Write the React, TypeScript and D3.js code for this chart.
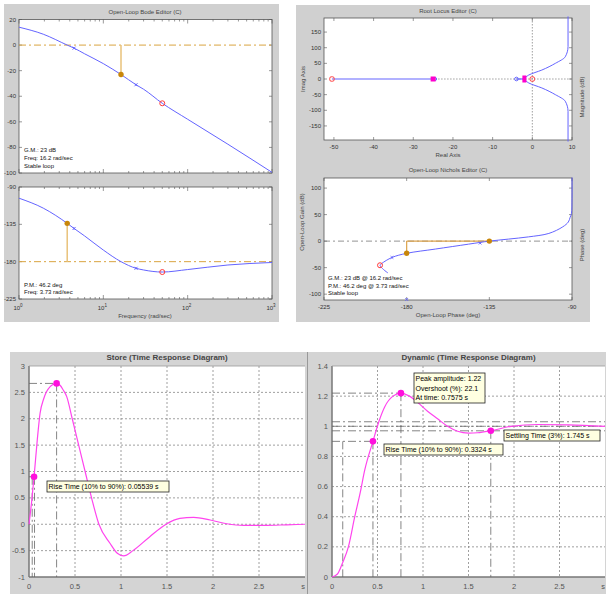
import React, { useEffect, useRef } from 'react';
import * as d3 from 'd3';

// open-loop Bode data (rad/sec, dB, deg)
const bodeFreq = [1, 1.94, 3.73, 4.5, 6, 10, 16.2, 24.4, 30, 50, 100, 300, 1000];
const bodeMag = [14, 8.5, 0, -2.4, -6.8, -14.5, -23, -31, -34.5, -45.5, -58, -77.5, -99.5];
const bodePhase = [-103.5, -115.5, -133.8, -140, -149, -166, -180, -188, -190, -192.5, -189.5, -184, -181];
const compFreq = [4.5, 24.4];
const gmFreq = 16.2;
const pmFreq = 3.73;
const closedFreq = 50;

// root locus
const rlBranchRe = [-2, -0.9, 2.4, 5.8, 8.3, 9.0, 9.0];
const rlBranchIm = [0, 12.7, 28.6, 50, 71, 103, 200];
const rlOpenPoles = [-50.5, 0];
const rlClosedPoles = [-25, -2];
const rlCompZero = -4;
const rlCompPole = -24.5;

// nichols
const nicholsPhase = [-90, -90, -90.3, -91, -92, -95, -102.6, -113.7, -124.6, -135, -146.3, -164.4, -180, -188, -193.5, -194.5, -192.6, -190.2];
const nicholsGain = [120, 80, 52, 45, 36, 27, 14.5, 8, 3.8, 0, -5.7, -15, -23, -30.8, -42, -45.5, -53.5, -60];
const nicholsComp: [number, number][] = [[-140, -3.8], [-188, -30.8], [-180, -110]];
const nicholsClosed: [number, number] = [-194.5, -45.5];

// time responses
const storeT = [0, 0.03, 0.055, 0.09, 0.12, 0.16, 0.19, 0.23, 0.26, 0.3, 0.34, 0.37, 0.41, 0.47, 0.54, 0.61, 0.68, 0.76, 0.88, 0.96, 1.03, 1.13, 1.31, 1.49, 1.64, 1.79, 1.97, 2.15, 2.33, 2.58, 2.8, 3.0];
const storeY = [0, 0.45, 0.9, 1.6, 2.1, 2.38, 2.51, 2.61, 2.65, 2.67, 2.63, 2.55, 2.42, 2.0, 1.5, 1.0, 0.5, 0, -0.36, -0.55, -0.6, -0.5, -0.24, 0, 0.11, 0.13, 0.08, 0.01, -0.02, -0.02, -0.01, 0];
const dynT = [0, 0.06, 0.12, 0.18, 0.25, 0.31, 0.36, 0.45, 0.52, 0.58, 0.67, 0.7575, 0.85, 0.94, 1.05, 1.16, 1.27, 1.38, 1.5, 1.6, 1.745, 1.97, 2.26, 2.6, 3.0];
const dynY = [0, 0.02, 0.1, 0.2, 0.4, 0.56, 0.71, 0.9, 1.04, 1.13, 1.2, 1.22, 1.2, 1.16, 1.1, 1.05, 1.0, 0.967, 0.955, 0.957, 0.97, 1.0, 1.012, 1.01, 1.0];
const timeTicks = ['0', '0.5', '1', '1.5', '2', '2.5', 's'];

const SANS = 'Liberation Sans, Arial, sans-serif';
const BLUE = '#6464ff';
const PINK = '#ff44ee';
const ORANGE = '#c8860a';
const ORANGE_L = '#e9c27a';
const RED = '#ff3b3b';

const txt = (g: any, x: number, y: number, s: string, size: number, anchor = 'start', fill = '#333') =>
  g.append('text')
    .attr('x', x).attr('y', y)
    .attr('font-family', SANS).attr('font-size', size)
    .attr('text-anchor', anchor).attr('dominant-baseline', 'central')
    .attr('fill', fill).text(s);

const xMark = (g: any, x: number, y: number, color: string, s = 2) => {
  g.append('path').attr('d', `M${x - s},${y - s}L${x + s},${y + s}M${x - s},${y + s}L${x + s},${y - s}`)
    .attr('stroke', color).attr('stroke-width', 1);
};

const frame = (g: any, x0: number, x1: number, y0: number, y1: number, stroke = '#555') =>
  g.append('rect').attr('x', x0).attr('y', y0).attr('width', x1 - x0).attr('height', y1 - y0)
    .attr('fill', '#fff').attr('stroke', stroke).attr('stroke-width', 0.8);

const App = () => {
  const svgRef = useRef<SVGSVGElement>(null);

  useEffect(() => {
    const svg = d3.select(svgRef.current);
    svg.selectAll('*').remove();

    // ---------- Bode editor ----------
    const bode = svg.append('g');
    bode.append('rect').attr('x', 4).attr('y', 4).attr('width', 275).attr('height', 318).attr('fill', '#d0d0d0');
    const xB = d3.scaleLog().domain([1, 1000]).range([19, 272]);
    const yMag = d3.scaleLinear().domain([-100, 20]).range([173, 19.5]);
    const yPh = d3.scaleLinear().domain([-225, -90]).range([299, 187]);
    const magAt = d3.scaleLog().domain(bodeFreq).range(bodeMag);
    const phAt = d3.scaleLog().domain(bodeFreq).range(bodePhase);

    txt(bode, 145, 12, 'Open-Loop Bode Editor (C)', 6, 'middle', '#444');
    frame(bode, 19, 272, 19.5, 173);
    frame(bode, 19, 272, 187, 299);

    const logTicks: number[] = [];
    for (let d = 0; d < 3; d++) for (let k = 1; k < 10; k++) logTicks.push(k * 10 ** d);
    logTicks.push(1000);
    [[19.5, 173], [187, 299]].forEach(([t, b]) => {
      logTicks.forEach(v => {
        const major = Math.abs(Math.log10(v) % 1) < 1e-9;
        const len = major ? 4 : 2;
        const x = xB(v);
        bode.append('line').attr('x1', x).attr('x2', x).attr('y1', t).attr('y2', t + len).attr('stroke', '#555').attr('stroke-width', 0.6);
        bode.append('line').attr('x1', x).attr('x2', x).attr('y1', b).attr('y2', b - len).attr('stroke', '#555').attr('stroke-width', 0.6);
      });
    });
    [20, 0, -20, -40, -60, -80, -100].forEach(v => {
      const y = yMag(v);
      bode.append('line').attr('x1', 19).attr('x2', 22).attr('y1', y).attr('y2', y).attr('stroke', '#555').attr('stroke-width', 0.6);
      bode.append('line').attr('x1', 272).attr('x2', 269).attr('y1', y).attr('y2', y).attr('stroke', '#555').attr('stroke-width', 0.6);
      txt(bode, 16, y, String(v), 6, 'end');
    });
    [-90, -135, -180, -225].forEach(v => {
      const y = yPh(v);
      bode.append('line').attr('x1', 19).attr('x2', 22).attr('y1', y).attr('y2', y).attr('stroke', '#555').attr('stroke-width', 0.6);
      bode.append('line').attr('x1', 272).attr('x2', 269).attr('y1', y).attr('y2', y).attr('stroke', '#555').attr('stroke-width', 0.6);
      txt(bode, 16, y, String(v), 6, 'end');
    });
    [1, 10, 100, 1000].forEach((v, i) => {
      const t = txt(bode, xB(v) - 1, 308, '10', 6, 'middle');
      t.append('tspan').attr('dy', -3).attr('font-size', 4.5).text(String(i));
    });
    txt(bode, 145, 316, 'Frequency (rad/sec)', 6, 'middle', '#444');

    bode.append('line').attr('x1', 19).attr('x2', 272).attr('y1', yMag(0)).attr('y2', yMag(0))
      .attr('stroke', '#d9a441').attr('stroke-dasharray', '7,3,2,3');
    bode.append('line').attr('x1', 19).attr('x2', 272).attr('y1', yPh(-180)).attr('y2', yPh(-180))
      .attr('stroke', '#d9a441').attr('stroke-dasharray', '7,3,2,3');

    const magLine = d3.line<number>().x(d => xB(d)).y((d, i) => yMag(bodeMag[i])).curve(d3.curveMonotoneX);
    const phLine = d3.line<number>().x(d => xB(d)).y((d, i) => yPh(bodePhase[i])).curve(d3.curveMonotoneX);
    bode.append('path').attr('d', magLine(bodeFreq)).attr('fill', 'none').attr('stroke', BLUE).attr('stroke-width', 1);
    bode.append('path').attr('d', phLine(bodeFreq)).attr('fill', 'none').attr('stroke', BLUE).attr('stroke-width', 1);

    // gain margin stem
    bode.append('line').attr('x1', xB(gmFreq)).attr('x2', xB(gmFreq)).attr('y1', yMag(0)).attr('y2', yMag(magAt(gmFreq)))
      .attr('stroke', ORANGE_L).attr('stroke-width', 1.5);
    bode.append('circle').attr('cx', xB(gmFreq)).attr('cy', yMag(magAt(gmFreq))).attr('r', 2.7).attr('fill', ORANGE);
    // phase margin stem
    bode.append('line').attr('x1', xB(pmFreq)).attr('x2', xB(pmFreq)).attr('y1', yPh(-180)).attr('y2', yPh(phAt(pmFreq)))
      .attr('stroke', ORANGE_L).attr('stroke-width', 1.5);
    bode.append('circle').attr('cx', xB(pmFreq)).attr('cy', yPh(phAt(pmFreq))).attr('r', 2.7).attr('fill', ORANGE);
    compFreq.forEach(f => {
      xMark(bode, xB(f), yMag(magAt(f)), BLUE, 1.5);
      xMark(bode, xB(f), yPh(phAt(f)), BLUE, 1.5);
    });
    bode.append('circle').attr('cx', xB(closedFreq)).attr('cy', yMag(magAt(closedFreq))).attr('r', 2.5).attr('fill', 'none').attr('stroke', RED);
    bode.append('circle').attr('cx', xB(closedFreq)).attr('cy', yPh(phAt(closedFreq))).attr('r', 2.5).attr('fill', 'none').attr('stroke', RED);

    txt(bode, 24, 150, 'G.M.: 23 dB', 6, 'start', '#111');
    txt(bode, 24, 158, 'Freq: 16.2 rad/sec', 6, 'start', '#111');
    txt(bode, 24, 166, 'Stable loop', 6, 'start', '#111');
    txt(bode, 24, 284.5, 'P.M.: 46.2 deg', 6, 'start', '#111');
    txt(bode, 24, 292, 'Freq: 3.73 rad/sec', 6, 'start', '#111');

    // ---------- Root locus + Nichols ----------
    const rl = svg.append('g');
    rl.append('rect').attr('x', 296).attr('y', 5).attr('width', 294).attr('height', 317).attr('fill', '#d0d0d0');
    const xRL = d3.scaleLinear().domain([-52.5, 10]).range([324, 572]);
    const yRL = d3.scaleLinear().domain([-195, 195]).range([140, 18]);
    txt(rl, 448, 11, 'Root Locus Editor (C)', 6, 'middle', '#444');
    frame(rl, 324, 572, 18, 140);
    [-50, -40, -30, -20, -10, 0, 10].forEach(v => {
      const x = xRL(v);
      rl.append('line').attr('x1', x).attr('x2', x).attr('y1', 140).attr('y2', 137).attr('stroke', '#555').attr('stroke-width', 0.6);
      rl.append('line').attr('x1', x).attr('x2', x).attr('y1', 18).attr('y2', 21).attr('stroke', '#555').attr('stroke-width', 0.6);
      txt(rl, x, 147, String(v), 6, 'middle');
    });
    [-150, -100, -50, 0, 50, 100, 150].forEach(v => {
      const y = yRL(v);
      rl.append('line').attr('x1', 324).attr('x2', 327).attr('y1', y).attr('y2', y).attr('stroke', '#555').attr('stroke-width', 0.6);
      rl.append('line').attr('x1', 572).attr('x2', 569).attr('y1', y).attr('y2', y).attr('stroke', '#555').attr('stroke-width', 0.6);
      txt(rl, 321, y, String(v), 6, 'end');
    });
    txt(rl, 448, 155, 'Real Axis', 6, 'middle', '#444');
    txt(rl, 0, 0, 'Imag Axis', 6, 'middle', '#444').attr('transform', 'translate(303,79) rotate(-90)');
    txt(rl, 0, 0, 'Magnitude (dB)', 6, 'middle', '#444').attr('transform', 'translate(582,97) rotate(-90)');

    rl.append('line').attr('x1', xRL(rlCompPole)).attr('x2', 572).attr('y1', yRL(0)).attr('y2', yRL(0))
      .attr('stroke', '#777').attr('stroke-width', 0.7).attr('stroke-dasharray', '1.5,1.5');
    rl.append('line').attr('x1', xRL(0)).attr('x2', xRL(0)).attr('y1', 18).attr('y2', 140)
      .attr('stroke', '#777').attr('stroke-width', 0.7).attr('stroke-dasharray', '1.5,1.5');
    rl.append('line').attr('x1', xRL(rlOpenPoles[0])).attr('x2', xRL(rlClosedPoles[0])).attr('y1', yRL(0)).attr('y2', yRL(0))
      .attr('stroke', BLUE).attr('stroke-width', 1.2);
    rl.append('line').attr('x1', xRL(rlCompZero)).attr('x2', xRL(rlClosedPoles[1])).attr('y1', yRL(0)).attr('y2', yRL(0))
      .attr('stroke', BLUE).attr('stroke-width', 1.2);
    [1, -1].forEach(s => {
      const ln = d3.line<number>().x(d => xRL(d)).y((d, i) => yRL(s * rlBranchIm[i])).curve(d3.curveMonotoneY);
      rl.append('path').attr('d', ln(rlBranchRe)).attr('fill', 'none').attr('stroke', BLUE).attr('stroke-width', 1);
    });
    rl.append('circle').attr('cx', xRL(rlCompZero)).attr('cy', yRL(0)).attr('r', 1.8).attr('fill', 'none').attr('stroke', BLUE);
    rl.append('circle').attr('cx', xRL(rlCompPole)).attr('cy', yRL(0)).attr('r', 1.5).attr('fill', 'none').attr('stroke', BLUE);
    rl.append('rect').attr('x', xRL(rlClosedPoles[0]) - 2.5).attr('y', yRL(0) - 2.5).attr('width', 5).attr('height', 5).attr('fill', '#ff00cc');
    rl.append('rect').attr('x', xRL(rlClosedPoles[1]) - 2).attr('y', yRL(0) - 3.5).attr('width', 4).attr('height', 7).attr('fill', '#ff00cc');
    rlOpenPoles.forEach(p => {
      rl.append('rect').attr('x', xRL(p) - 2.2).attr('y', yRL(0) - 2.2).attr('width', 4.4).attr('height', 4.4)
        .attr('rx', 1.5).attr('fill', 'none').attr('stroke', RED);
    });

    const xN = d3.scaleLinear().domain([-225, -90]).range([324, 572]);
    const yN = d3.scaleLinear().domain([-111, 119]).range([300, 178]);
    txt(rl, 448, 170, 'Open-Loop Nichols Editor (C)', 6, 'middle', '#444');
    frame(rl, 324, 572, 178, 300);
    [-225, -180, -135, -90].forEach(v => {
      const x = xN(v);
      rl.append('line').attr('x1', x).attr('x2', x).attr('y1', 300).attr('y2', 297).attr('stroke', '#555').attr('stroke-width', 0.6);
      rl.append('line').attr('x1', x).attr('x2', x).attr('y1', 178).attr('y2', 181).attr('stroke', '#555').attr('stroke-width', 0.6);
      txt(rl, x, 307, String(v), 6, 'middle');
    });
    [-100, -50, 0, 50, 100].forEach(v => {
      const y = yN(v);
      rl.append('line').attr('x1', 324).attr('x2', 327).attr('y1', y).attr('y2', y).attr('stroke', '#555').attr('stroke-width', 0.6);
      rl.append('line').attr('x1', 572).attr('x2', 569).attr('y1', y).attr('y2', y).attr('stroke', '#555').attr('stroke-width', 0.6);
      txt(rl, 321, y, String(v), 6, 'end');
    });
    txt(rl, 448, 315, 'Open-Loop Phase (deg)', 6, 'middle', '#444');
    txt(rl, 0, 0, 'Open-Loop Gain (dB)', 6, 'middle', '#444').attr('transform', 'translate(302,222) rotate(-90)');
    txt(rl, 0, 0, 'Phase (deg)', 6, 'middle', '#444').attr('transform', 'translate(582,245) rotate(-90)');

    rl.append('line').attr('x1', 324).attr('x2', 572).attr('y1', yN(0)).attr('y2', yN(0))
      .attr('stroke', '#666').attr('stroke-width', 0.7).attr('stroke-dasharray', '6,3,2,3');
    rl.append('line').attr('x1', xN(-180)).attr('x2', xN(-135)).attr('y1', yN(0)).attr('y2', yN(0))
      .attr('stroke', '#dba24a').attr('stroke-width', 1.2);
    rl.append('line').attr('x1', xN(-180)).attr('x2', xN(-180)).attr('y1', yN(0)).attr('y2', yN(-23))
      .attr('stroke', '#dba24a').attr('stroke-width', 1.2);
    const nLine = d3.line<number>().x(d => xN(d)).y((d, i) => yN(nicholsGain[i])).curve(d3.curveCatmullRom);
    rl.append('path').attr('d', nLine(nicholsPhase)).attr('fill', 'none').attr('stroke', BLUE).attr('stroke-width', 1);
    rl.append('circle').attr('cx', xN(-135)).attr('cy', yN(0)).attr('r', 2.7).attr('fill', ORANGE);
    rl.append('circle').attr('cx', xN(-180)).attr('cy', yN(-23)).attr('r', 2.7).attr('fill', ORANGE);
    nicholsComp.forEach(([p, gn]) => xMark(rl, xN(p), yN(gn), BLUE, 1.3));
    rl.append('circle').attr('cx', xN(nicholsClosed[0])).attr('cy', yN(nicholsClosed[1])).attr('r', 2.5).attr('fill', 'none').attr('stroke', RED);
    txt(rl, 328, 278, 'G.M.: 23 dB @ 16.2 rad/sec', 6, 'start', '#111');
    txt(rl, 328, 285.5, 'P.M.: 46.2 deg @ 3.73 rad/sec', 6, 'start', '#111');
    txt(rl, 328, 293, 'Stable loop', 6, 'start', '#111');

    // ---------- time response panels ----------
    const DASHDOT = '8,3,2,3';
    const timePanel = (
      px0: number, px1: number, ax0: number, ax1: number, title: string,
      yDomain: [number, number], yTicks: number[], T: number[], Y: number[],
    ) => {
      const g = svg.append('g');
      g.append('rect').attr('x', px0).attr('y', 352).attr('width', px1 - px0).attr('height', 242).attr('fill', '#d4d4d4');
      const x = d3.scaleLinear().domain([0, 3]).range([ax0, ax1]);
      const y = d3.scaleLinear().domain(yDomain).range([577, 366]);
      g.append('text').attr('x', (ax0 + ax1) / 2).attr('y', 357).attr('dominant-baseline', 'central')
        .attr('text-anchor', 'middle').attr('font-family', SANS).attr('font-size', 8).attr('font-weight', 'bold')
        .attr('fill', '#444').text(title);
      g.append('rect').attr('x', ax0).attr('y', 366).attr('width', ax1 - ax0).attr('height', 211).attr('fill', '#fff');
      d3.range(0.5, 3, 0.5).forEach(v => {
        g.append('line').attr('x1', x(v)).attr('x2', x(v)).attr('y1', 366).attr('y2', 577)
          .attr('stroke', '#888').attr('stroke-width', 0.8).attr('stroke-dasharray', '2,2');
      });
      yTicks.slice(1, -1).forEach(v => {
        g.append('line').attr('x1', ax0).attr('x2', ax1).attr('y1', y(v)).attr('y2', y(v))
          .attr('stroke', '#888').attr('stroke-width', 0.8).attr('stroke-dasharray', '2,2');
      });
      g.append('line').attr('x1', ax0).attr('x2', ax0).attr('y1', 366).attr('y2', 577).attr('stroke', '#777').attr('stroke-width', 1.5);
      g.append('line').attr('x1', ax0).attr('x2', ax1).attr('y1', 577).attr('y2', 577).attr('stroke', '#777').attr('stroke-width', 1.5);
      g.append('line').attr('x1', ax0).attr('x2', ax1).attr('y1', 366).attr('y2', 366).attr('stroke', '#999').attr('stroke-width', 0.8);
      yTicks.forEach(v => txt(g, ax0 - 4, y(v), String(v), 7.5, 'end', '#555'));
      timeTicks.forEach((s, i) => txt(g, x(i * 0.5) - (i === 6 ? 2 : 0), 586, s, 7.5, 'middle', '#555'));
      const line = d3.line<number>().x(d => x(d)).y((d, i) => y(Y[i])).curve(d3.curveMonotoneX);
      const curve = () => g.append('path').attr('d', line(T)).attr('fill', 'none').attr('stroke', PINK).attr('stroke-width', 1.2);
      const ref = (t0: number, v0: number, t1: number, v1: number) =>
        g.append('line').attr('x1', x(t0)).attr('x2', x(t1)).attr('y1', y(v0)).attr('y2', y(v1))
          .attr('stroke', '#666').attr('stroke-width', 0.8).attr('stroke-dasharray', DASHDOT);
      const dot = (t: number, v: number) => g.append('circle').attr('cx', x(t)).attr('cy', y(v)).attr('r', 3.3).attr('fill', '#ff10dd');
      const tip = (bx: number, by: number, lines: string[], w: number) => {
        g.append('rect').attr('x', bx).attr('y', by).attr('width', w).attr('height', lines.length * 9.5 + 1.5)
          .attr('fill', '#ffffe1').attr('stroke', '#222').attr('stroke-width', 0.8);
        lines.forEach((s, i) => txt(g, bx + 1.5, by + 5.5 + i * 9.5, s, 7, 'start', '#000'));
      };
      return { g, x, y, curve, ref, dot, tip };
    };

    const st = timePanel(10, 307, 29, 305, 'Store (Time Response Diagram)', [-1, 3],
      [-1, -0.5, 0, 0.5, 1, 1.5, 2, 2.5, 3], storeT, storeY);
    st.ref(0, 2.67, 0.3, 2.67);
    st.ref(0.3, 2.67, 0.3, -1);
    st.ref(0, 0.9, 0.055, 0.9);
    st.ref(0.035, 0.9, 0.035, -1);
    st.ref(0.06, 0.9, 0.06, -1);
    st.curve();
    st.dot(0.055, 0.9);
    st.dot(0.3, 2.67);
    st.tip(47, 481, ['Rise Time (10% to 90%): 0.05539 s'], 122);

    svg.append('line').attr('x1', 307.5).attr('x2', 307.5).attr('y1', 352).attr('y2', 594).attr('stroke', '#999');

    const dy = timePanel(308, 606, 332, 605, 'Dynamic (Time Response Diagram)', [0, 1.4],
      [0, 0.2, 0.4, 0.6, 0.8, 1, 1.2, 1.4], dynT, dynY);
    dy.ref(0, 1.22, 0.7575, 1.22);
    dy.ref(0.7575, 1.22, 0.7575, 0);
    dy.ref(0, 1.03, 3, 1.03);
    dy.ref(0, 1.0, 3, 1.0);
    dy.ref(0, 0.97, 3, 0.97);
    dy.ref(0, 0.9, 0.45, 0.9);
    dy.ref(0.45, 0.9, 0.45, 0);
    dy.ref(0.118, 0.9, 0.118, 0);
    dy.ref(1.745, 0.97, 1.745, 0);
    dy.curve();
    dy.dot(0.45, 0.9);
    dy.dot(0.7575, 1.22);
    dy.dot(1.745, 0.97);
    dy.tip(414, 373, ['Peak amplitude: 1.22', 'Overshoot (%): 22.1', 'At time: 0.7575 s'], 71);
    dy.tip(504, 430, ['Settling Time (3%): 1.745 s'], 96);
    dy.tip(384, 444, ['Rise Time (10% to 90%): 0.3324 s'], 119);
  }, []);

  return (
    <svg ref={svgRef} width={606} height={594}
      style={{ position: 'absolute', left: 0, top: 0, background: '#fff' }} />
  );
};

export default App;
